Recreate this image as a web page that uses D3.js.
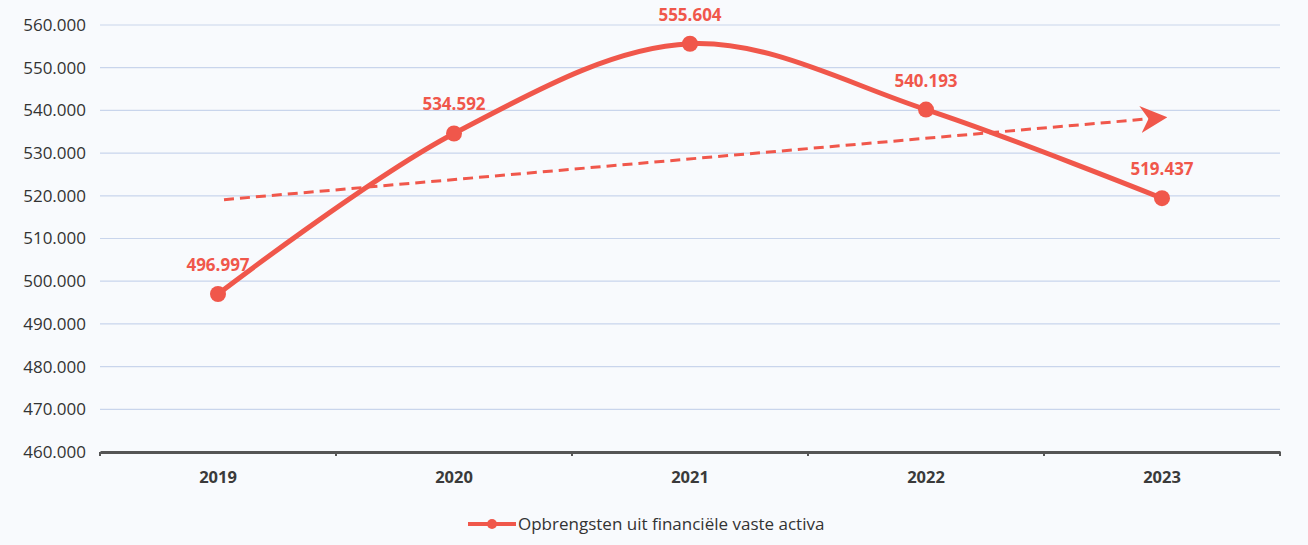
<!DOCTYPE html>
<html>
<head>
<meta charset="utf-8">
<script src="https://cdn.jsdelivr.net/npm/d3@7"></script>
<style>
  body { margin: 0; background: #f8fafd; }
  svg { display: block; font-family: "Open Sans", "Noto Sans", sans-serif; }
</style>
</head>
<body>
<div id="chart"></div>
<script>
const years = ["2019", "2020", "2021", "2022", "2023"];
const revenue = [496.997, 534.592, 555.604, 540.193, 519.437];
const trend = [519.1, 538.3]; // trend line, first and last year
const yTicks = [460, 470, 480, 490, 500, 510, 520, 530, 540, 550, 560];
const seriesName = "Opbrengsten uit financiële vaste activa";

const W = 1308, H = 545;
const margin = { top: 25, right: 28, bottom: 93, left: 100 };
const width = W - margin.left - margin.right;
const height = H - margin.top - margin.bottom;
const red = "#f0574b";
const font = '"Open Sans", "Noto Sans", sans-serif';
const fmt = v => d3.format(".3f")(v);

const svg = d3.select("#chart").append("svg")
    .attr("width", W).attr("height", H);
svg.append("rect").attr("width", W).attr("height", H).attr("fill", "#f8fafd");

const g = svg.append("g").attr("transform", `translate(${margin.left},${margin.top})`);

const x = d3.scaleBand().domain(years).range([0, width]);
const xc = d => x(d) + x.bandwidth() / 2;
const y = d3.scaleLinear().domain([460, 560]).range([height, 0]);

// gridlines
g.append("g").selectAll("line")
    .data(yTicks.filter(t => t > 460))
    .enter().append("line")
    .attr("x1", 0).attr("x2", width)
    .attr("y1", d => y(d)).attr("y2", d => y(d))
    .attr("stroke", "#c9d5ec").attr("stroke-width", 1.2);

// y axis labels
const yAxis = g.append("g")
    .call(d3.axisLeft(y).tickValues(yTicks).tickSize(0).tickPadding(14)
        .tickFormat(d => d3.format(".3f")(d)))
    .attr("font-family", font);
yAxis.select(".domain").remove();
yAxis.selectAll("text").attr("font-size", 17).attr("fill", "#333");

// x axis
const xAxis = g.append("g").attr("transform", `translate(0,${height})`)
    .call(d3.axisBottom(x).tickSize(0).tickPadding(19))
    .attr("font-family", font);
xAxis.select(".domain").attr("stroke", "#555").attr("stroke-width", 3);
xAxis.selectAll("text").attr("font-size", 16.5).attr("font-weight", "bold").attr("fill", "#3a3a3a");
g.append("g").selectAll("line")
    .data(years.concat(["end"]))
    .enter().append("line")
    .attr("x1", (d, i) => i * x.step()).attr("x2", (d, i) => i * x.step())
    .attr("y1", height).attr("y2", height + 4)
    .attr("stroke", "#555").attr("stroke-width", 2);

// trend arrow
const defs = svg.append("defs");
defs.append("marker")
    .attr("id", "arrow").attr("viewBox", "0 0 10 10")
    .attr("refX", 8).attr("refY", 5)
    .attr("markerWidth", 9).attr("markerHeight", 9)
    .attr("markerUnits", "strokeWidth")
    .attr("orient", "auto")
    .append("path").attr("d", "M0,0 L10,5 L0,10 L3,5 Z").attr("fill", red);

g.append("line")
    .attr("x1", xc(years[0]) + 6).attr("y1", y(trend[0]))
    .attr("x2", xc(years[years.length - 1])).attr("y2", y(trend[1]))
    .attr("stroke", red).attr("stroke-width", 3)
    .attr("stroke-dasharray", "10,6")
    .attr("marker-end", "url(#arrow)");

// main line
const line = d3.line()
    .x((d, i) => xc(years[i]))
    .y(d => y(d))
    .curve(d3.curveCatmullRom.alpha(0.5));

g.append("path")
    .datum(revenue)
    .attr("d", line)
    .attr("fill", "none")
    .attr("stroke", red).attr("stroke-width", 5);

g.selectAll(".dot")
    .data(revenue)
    .enter().append("circle")
    .attr("class", "dot")
    .attr("cx", (d, i) => xc(years[i]))
    .attr("cy", d => y(d))
    .attr("r", 8)
    .attr("fill", red);

g.selectAll(".lbl")
    .data(revenue)
    .enter().append("text")
    .attr("class", "lbl")
    .attr("x", (d, i) => xc(years[i]))
    .attr("y", d => y(d) - 23)
    .attr("text-anchor", "middle")
    .attr("font-size", 17).attr("font-weight", "bold")
    .attr("fill", red)
    .text(d => fmt(d));

// legend
const lg = svg.append("g").attr("transform", "translate(468,524)");
lg.append("line").attr("x1", 0).attr("x2", 48).attr("y1", 0).attr("y2", 0)
    .attr("stroke", red).attr("stroke-width", 4);
lg.append("circle").attr("cx", 24).attr("cy", 0).attr("r", 5).attr("fill", red);
lg.append("text").attr("x", 50).attr("y", 6)
    .attr("font-size", 17).attr("fill", "#333")
    .text(seriesName);
</script>
</body>
</html>
